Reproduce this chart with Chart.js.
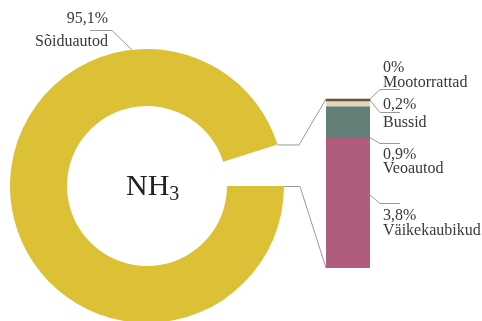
<!DOCTYPE html>
<html>
<head>
<meta charset="utf-8">
<script src="https://cdn.jsdelivr.net/npm/chart.js@4/dist/chart.umd.min.js"></script>
<style>
  html, body { margin: 0; padding: 0; background: #fff; overflow: hidden; width: 482px; height: 321px; }
  canvas { position: absolute; left: 0; top: 0; }
</style>
</head>
<body>
<canvas id="ring" width="482" height="330"></canvas>
<canvas id="stack" width="482" height="330"></canvas>
<script>
// NH3 emissions by vehicle type, shares in percent
const mainCategory = 'Sõiduautod';
const mainShare = 95.1;
const otherCategories = ['Väikekaubikud', 'Veoautod', 'Bussid', 'Mootorrattad'];
const otherShares = [3.8, 0.9, 0.2, 0];
const centerTitle = 'NH';
const centerSubscript = '3';

// styling
const mainColor = '#dcc036';
const otherColors = ['#b05d7d', '#647f78', '#ddd8c1', '#70502f'];
const lineColor = '#9a9a9a';
const textColor = '#383838';
const labelFont = '16px "Liberation Serif", "Times New Roman", serif';

const restShare = otherShares.reduce((a, b) => a + b, 0);
const fmt = v => String(v).replace('.', ',') + '%';

// label placement next to the stacked bar (anchor: 0 = segment top, 1 = segment bottom)
const sideLayout = [
  { anchor: 0.44, elbowY: 203, base1: 220, base2: 235 },
  { anchor: 1.0,  elbowY: 143, base1: 159, base2: 173 },
  { anchor: 0.0,  elbowY: 112, base1: 109, base2: 127 },
  { anchor: 0.0,  elbowY: 89,  base1: 72,  base2: 87 }
];
// label placement for the ring slice
const mainLayout = { angleDeg: -96.3, elbowX: 112, lineY: 30, lineEndX: 90, textRight: 108, base1: 23, base2: 46 };

const centerText = {
  id: 'centerText',
  afterDraw(chart) {
    const arc = chart.getDatasetMeta(0).data[0];
    const ctx = chart.ctx;
    ctx.save();
    ctx.fillStyle = '#222';
    ctx.textBaseline = 'alphabetic';
    ctx.textAlign = 'left';
    ctx.font = '30px "Liberation Serif", "Times New Roman", serif';
    const x0 = arc.x - 21;
    ctx.fillText(centerTitle, x0, arc.y + 9);
    const w = ctx.measureText(centerTitle).width;
    ctx.font = '20px "Liberation Serif", "Times New Roman", serif';
    ctx.fillText(centerSubscript, x0 + w, arc.y + 14);
    ctx.restore();
  }
};

const ringChart = new Chart(document.getElementById('ring'), {
  type: 'doughnut',
  data: {
    labels: [mainCategory, ''],
    datasets: [{
      data: [mainShare, restShare],
      backgroundColor: [mainColor, 'rgba(0,0,0,0)'],
      borderWidth: 0
    }]
  },
  options: {
    responsive: false,
    animation: false,
    rotation: 90,
    cutout: '58.4%',
    layout: { padding: { left: 10, right: 198, top: 49, bottom: 7 } },
    plugins: { legend: { display: false }, tooltip: { enabled: false } }
  },
  plugins: [centerText]
});

const annotations = {
  id: 'annotations',
  afterDatasetsDraw(chart) {
    // Chart.js paints the top of a stack first; repaint the topmost
    // segment so its minimum-length sliver is not covered by the one below
    const last = chart.getDatasetMeta(otherCategories.length - 1).data[0];
    last.draw(chart.ctx, chart.chartArea);
  },
  afterDraw(chart) {
    const ctx = chart.ctx;
    const arc = ringChart.getDatasetMeta(0).data[0];
    const cx = arc.x, cy = arc.y, R = arc.outerRadius;
    const bars = otherCategories.map((_, i) => chart.getDatasetMeta(i).data[0]);
    const topBar = bars[bars.length - 1];
    const left = topBar.x - topBar.width / 2;
    const right = topBar.x + topBar.width / 2;
    const top = Math.min(...bars.map(b => Math.min(b.y, b.base)));
    const bottom = Math.max(...bars.map(b => Math.max(b.y, b.base)));

    ctx.save();
    ctx.strokeStyle = lineColor;
    ctx.lineWidth = 1;

    // ring gap -> bar connectors
    const ex = cx + R * Math.cos(arc.endAngle), ey = cy + R * Math.sin(arc.endAngle);
    ctx.beginPath();
    ctx.moveTo(ex, ey + 0.5);
    ctx.lineTo(left - 27, ey + 0.5);
    ctx.lineTo(left, top);
    ctx.stroke();
    const sx = cx + R * Math.cos(arc.startAngle), sy = cy + R * Math.sin(arc.startAngle);
    ctx.beginPath();
    ctx.moveTo(sx, sy + 0.5);
    ctx.lineTo(left - 26, sy + 0.5);
    ctx.lineTo(left, bottom);
    ctx.stroke();

    // slice label
    const a = mainLayout.angleDeg * Math.PI / 180;
    ctx.beginPath();
    ctx.moveTo(cx + R * Math.cos(a), cy + R * Math.sin(a));
    ctx.lineTo(mainLayout.elbowX, mainLayout.lineY + 0.5);
    ctx.lineTo(mainLayout.lineEndX, mainLayout.lineY + 0.5);
    ctx.stroke();

    ctx.fillStyle = textColor;
    ctx.font = labelFont;
    ctx.textBaseline = 'alphabetic';
    ctx.textAlign = 'right';
    ctx.fillText(fmt(mainShare), mainLayout.textRight, mainLayout.base1);
    ctx.fillText(mainCategory, mainLayout.textRight, mainLayout.base2);

    // bar segment labels
    ctx.textAlign = 'left';
    bars.forEach((b, i) => {
      const L = sideLayout[i];
      const segTop = Math.min(b.y, b.base), segBot = Math.max(b.y, b.base);
      const ay = i === bars.length - 1 ? top : segTop + (segBot - segTop) * L.anchor;
      ctx.beginPath();
      ctx.moveTo(right, ay);
      ctx.lineTo(right + 10, L.elbowY + 0.5);
      ctx.lineTo(right + 30, L.elbowY + 0.5);
      ctx.stroke();
      ctx.fillText(fmt(otherShares[i]), right + 13, L.base1);
      ctx.fillText(otherCategories[i], right + 13, L.base2);
    });
    ctx.restore();
  }
};

new Chart(document.getElementById('stack'), {
  type: 'bar',
  data: {
    labels: [''],
    datasets: otherCategories.map((name, i) => ({
      label: name,
      data: [otherShares[i]],
      backgroundColor: otherColors[i],
      borderWidth: 0,
      minBarLength: 2,
      barPercentage: 1,
      categoryPercentage: 1
    }))
  },
  options: {
    responsive: false,
    animation: false,
    layout: { padding: { left: 326, right: 112, top: 100, bottom: 62 } },
    scales: {
      x: { stacked: true, display: false },
      y: { stacked: true, display: false, min: 0, max: restShare }
    },
    plugins: { legend: { display: false }, tooltip: { enabled: false } }
  },
  plugins: [annotations]
});
</script>
</body>
</html>
